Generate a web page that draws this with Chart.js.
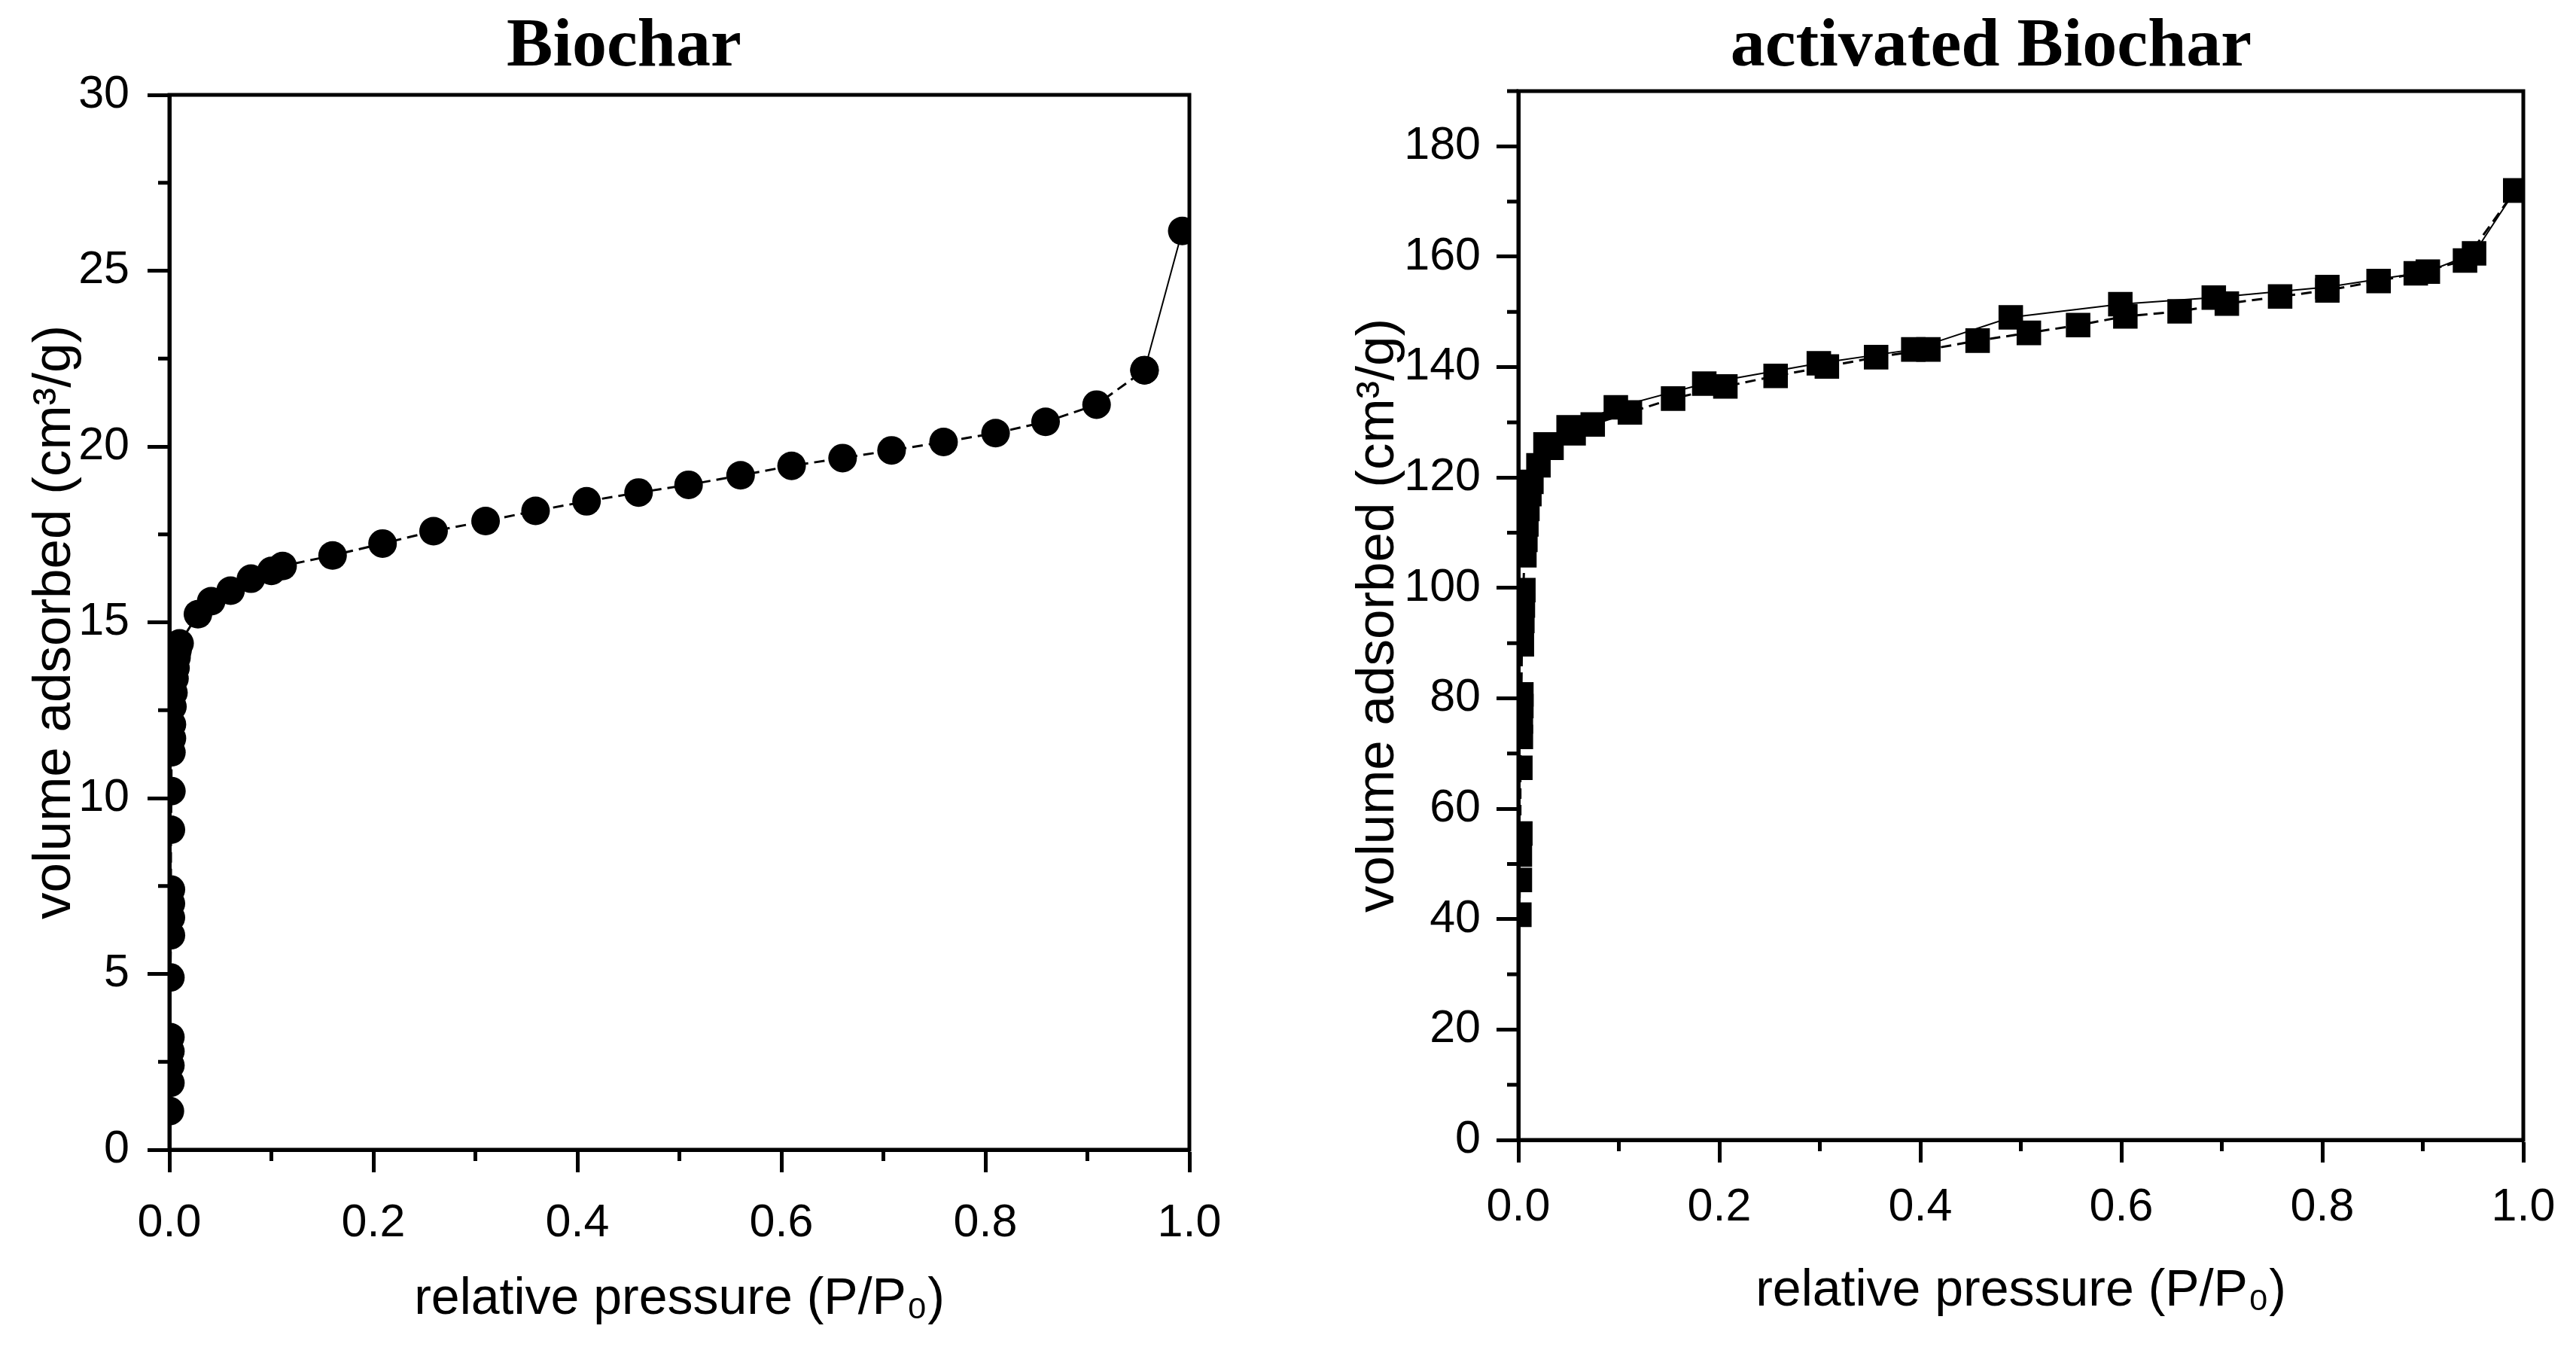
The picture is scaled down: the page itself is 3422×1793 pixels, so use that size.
<!DOCTYPE html>
<html>
<head>
<meta charset="utf-8">
<script src="https://cdn.jsdelivr.net/npm/chart.js@4.4.1/dist/chart.umd.min.js"></script>
<style>
  html, body { margin: 0; padding: 0; background: #fff; }
  body { width: 3422px; height: 1793px; position: relative; overflow: hidden; }
  canvas { position: absolute; top: 0; }
  .ttl { position: absolute; top: 10px; width: 1000px; text-align: center;
         font: bold 92px "Liberation Serif", "DejaVu Serif", serif; line-height: 1; color: #000; }
</style>
</head>
<body>
<div class="ttl" id="t1" style="left:329px">Biochar</div>
<div class="ttl" id="t2" style="left:2145px">activated Biochar</div>
<canvas id="c1" width="1711" height="1793" style="left:0px;width:1711px;height:1793px"></canvas>
<canvas id="c2" width="1711" height="1793" style="left:1711px;width:1711px;height:1793px"></canvas>
<script>
// ---------- data ----------
const biocharAdsP = [0.0005,0.001,0.001,0.001,0.001,0.001,0.0015,0.0015,0.0015,0.0015,0.0015,0.002,0.002,0.0025,0.0025,0.003,0.004,0.005,0.006,0.007,0.008,0.010,0.028,0.041,0.060,0.080,0.100,0.111,0.160,0.209,0.259,0.310,0.359,0.409,0.460,0.509,0.560,0.610,0.660,0.708,0.759,0.810,0.859,0.909,0.956];
const biocharAdsV = [1.1,1.9,2.4,2.8,3.2,4.9,6.1,6.6,7.0,7.4,9.1,10.2,11.3,11.7,12.1,12.6,13.0,13.4,13.7,14.0,14.2,14.4,15.23,15.6,15.9,16.24,16.46,16.6,16.9,17.24,17.59,17.88,18.17,18.44,18.69,18.91,19.18,19.45,19.67,19.89,20.13,20.38,20.7,21.19,22.17];
const biocharDesP = [0.993,0.956];
const biocharDesV = [26.13,22.17];

const activatedAdsP = [0.001,0.0015,0.0015,0.002,0.002,0.0025,0.0025,0.003,0.003,0.0035,0.004,0.0045,0.005,0.006,0.007,0.008,0.009,0.011,0.013,0.020,0.033,0.055,0.074,0.111,0.154,0.206,0.256,0.307,0.356,0.408,0.457,0.508,0.557,0.604,0.658,0.705,0.758,0.805,0.856,0.893,0.942,0.992];
const activatedAdsV = [40.8,47.1,51.7,55.5,67.4,73,75.8,78.6,80.7,89.8,94,96.8,99.6,105.9,108.7,111.5,114.3,117,119.2,122.2,125.4,128.0,129.6,131.8,134.3,136.5,138.4,140.1,141.8,143.2,144.8,146.2,147.6,149.2,150.1,151.5,152.8,153.9,155.6,157.0,159.3,172.0];
const activatedDesP = [0.992,0.951,0.905,0.805,0.692,0.599,0.490,0.393,0.299,0.185,0.097,0.050,0.027];
const activatedDesV = [172.0,160.6,157.3,154.5,152.6,151.4,149.0,143.2,140.7,137.0,132.7,129.1,126.0];

// tick labels / tick positions
const xTicks = [0, 0.2, 0.4, 0.6, 0.8, 1.0];
const xMinorTicks = [0.1, 0.3, 0.5, 0.7, 0.9];
const biocharYTicks = [0, 5, 10, 15, 20, 25, 30];
const biocharYMinorTicks = [2.5, 7.5, 12.5, 17.5, 22.5, 27.5];
const activatedYTicks = [0, 20, 40, 60, 80, 100, 120, 140, 160, 180];
const activatedYMinorTicks = [10, 30, 50, 70, 90, 110, 130, 150, 170, 190];

const xTitle = 'relative pressure (P/P\u2080)';
const yTitle = 'volume adsorbed (cm\u00B3/g)';

// ---------- helpers ----------
const pts = (xs, ys) => xs.map((x, i) => ({ x: x, y: ys[i] }));
const AX = '#000';
const TICKFONT = { family: '"Liberation Sans", Arial, sans-serif', size: 61 };
const XTITLEFONT = { family: '"Liberation Sans", Arial, sans-serif', size: 68 };
const YTITLEFONT = { family: '"Liberation Sans", Arial, sans-serif', size: 71 };

const framePlugin = {
  id: 'frame',
  afterDraw(chart, args, opts) {
    const { ctx, chartArea: a, scales } = chart;
    ctx.save();
    ctx.strokeStyle = AX;
    ctx.lineWidth = 5;
    ctx.strokeRect(a.left, a.top, a.right - a.left, a.bottom - a.top);
    // minor ticks (outward)
    ctx.beginPath();
    (opts.xMinor || []).forEach(v => {
      const px = scales.x.getPixelForValue(v);
      ctx.moveTo(px, a.bottom); ctx.lineTo(px, a.bottom + 15);
    });
    (opts.yMinor || []).forEach(v => {
      const py = scales.y.getPixelForValue(v);
      ctx.moveTo(a.left, py); ctx.lineTo(a.left - 15, py);
    });
    ctx.stroke();
    ctx.restore();
  }
};

function makeChart(id, cfg) {
  return new Chart(document.getElementById(id), {
    type: 'scatter',
    data: { datasets: cfg.datasets },
    options: {
      responsive: false,
      animation: false,
      devicePixelRatio: 1,
      layout: { padding: cfg.padding },
      plugins: {
        legend: { display: false },
        tooltip: { enabled: false },
        frame: { xMinor: cfg.xMinor, yMinor: cfg.yMinor }
      },
      scales: {
        x: {
          type: 'linear', min: 0, max: 1,
          afterBuildTicks: s => { s.ticks = xTicks.map(v => ({ value: v })); },
          afterFit: s => { s.height = cfg.xHeight; },
          ticks: { color: AX, font: TICKFONT, padding: cfg.xTickPad, maxRotation: 0,
                   callback: v => Number(v).toFixed(1) },
          grid: { drawOnChartArea: false, drawTicks: true, tickLength: 30, tickWidth: 5, tickColor: AX, color: AX },
          border: { display: true, color: AX, width: 5 },
          title: { display: true, text: xTitle, color: AX, font: XTITLEFONT, padding: { top: 0, bottom: cfg.xTitlePad } }
        },
        y: {
          type: 'linear', min: cfg.yMin, max: cfg.yMax,
          afterBuildTicks: s => { s.ticks = cfg.yTicks.map(v => ({ value: v })); },
          afterFit: s => { s.width = cfg.yWidth; },
          ticks: { color: AX, font: TICKFONT, padding: cfg.yTickPad },
          grid: { drawOnChartArea: false, drawTicks: true, tickLength: 29, tickWidth: 5, tickColor: AX, color: AX },
          border: { display: true, color: AX, width: 5 },
          title: { display: true, text: yTitle, color: AX, font: YTITLEFONT, padding: { top: cfg.yTitlePad, bottom: 0 } }
        }
      }
    },
    plugins: [framePlugin]
  });
}

makeChart('c1', {
  padding: { top: 126, right: 131, bottom: 0, left: 0 },
  xHeight: 1793 - 1527, yWidth: 225,
  xTickPad: 32, yTickPad: 24, xTitlePad: 26, yTitlePad: 31,
  yMin: 0, yMax: 30, yTicks: biocharYTicks,
  xMinor: xMinorTicks, yMinor: biocharYMinorTicks,
  datasets: [
    { data: pts(biocharAdsP, biocharAdsV), showLine: true, borderColor: '#000', borderWidth: 3,
      borderDash: [14, 8], pointStyle: 'circle', pointRadius: 19, pointBackgroundColor: '#000',
      pointBorderWidth: 0, backgroundColor: '#000' },
    { data: pts(biocharDesP, biocharDesV), showLine: true, borderColor: '#000', borderWidth: 2,
      pointStyle: 'circle', pointRadius: 19, pointBackgroundColor: '#000',
      pointBorderWidth: 0, backgroundColor: '#000' }
  ]
});

makeChart('c2', {
  padding: { top: 121, right: 70, bottom: 0, left: 0 },
  xHeight: 1793 - 1514, yWidth: 306,
  xTickPad: 24, yTickPad: 21, xTitlePad: 37, yTitlePad: 78,
  yMin: 0, yMax: 190, yTicks: activatedYTicks,
  xMinor: xMinorTicks, yMinor: activatedYMinorTicks,
  datasets: [
    { data: pts(activatedAdsP, activatedAdsV), showLine: true, borderColor: '#000', borderWidth: 3,
      borderDash: [14, 8], pointStyle: 'rect', pointRadius: 23, pointBackgroundColor: '#000',
      pointBorderWidth: 0, backgroundColor: '#000' },
    { data: pts(activatedDesP, activatedDesV), showLine: true, borderColor: '#000', borderWidth: 2,
      pointStyle: 'rect', pointRadius: 23, pointBackgroundColor: '#000',
      pointBorderWidth: 0, backgroundColor: '#000' }
  ]
});
</script>
</body>
</html>
